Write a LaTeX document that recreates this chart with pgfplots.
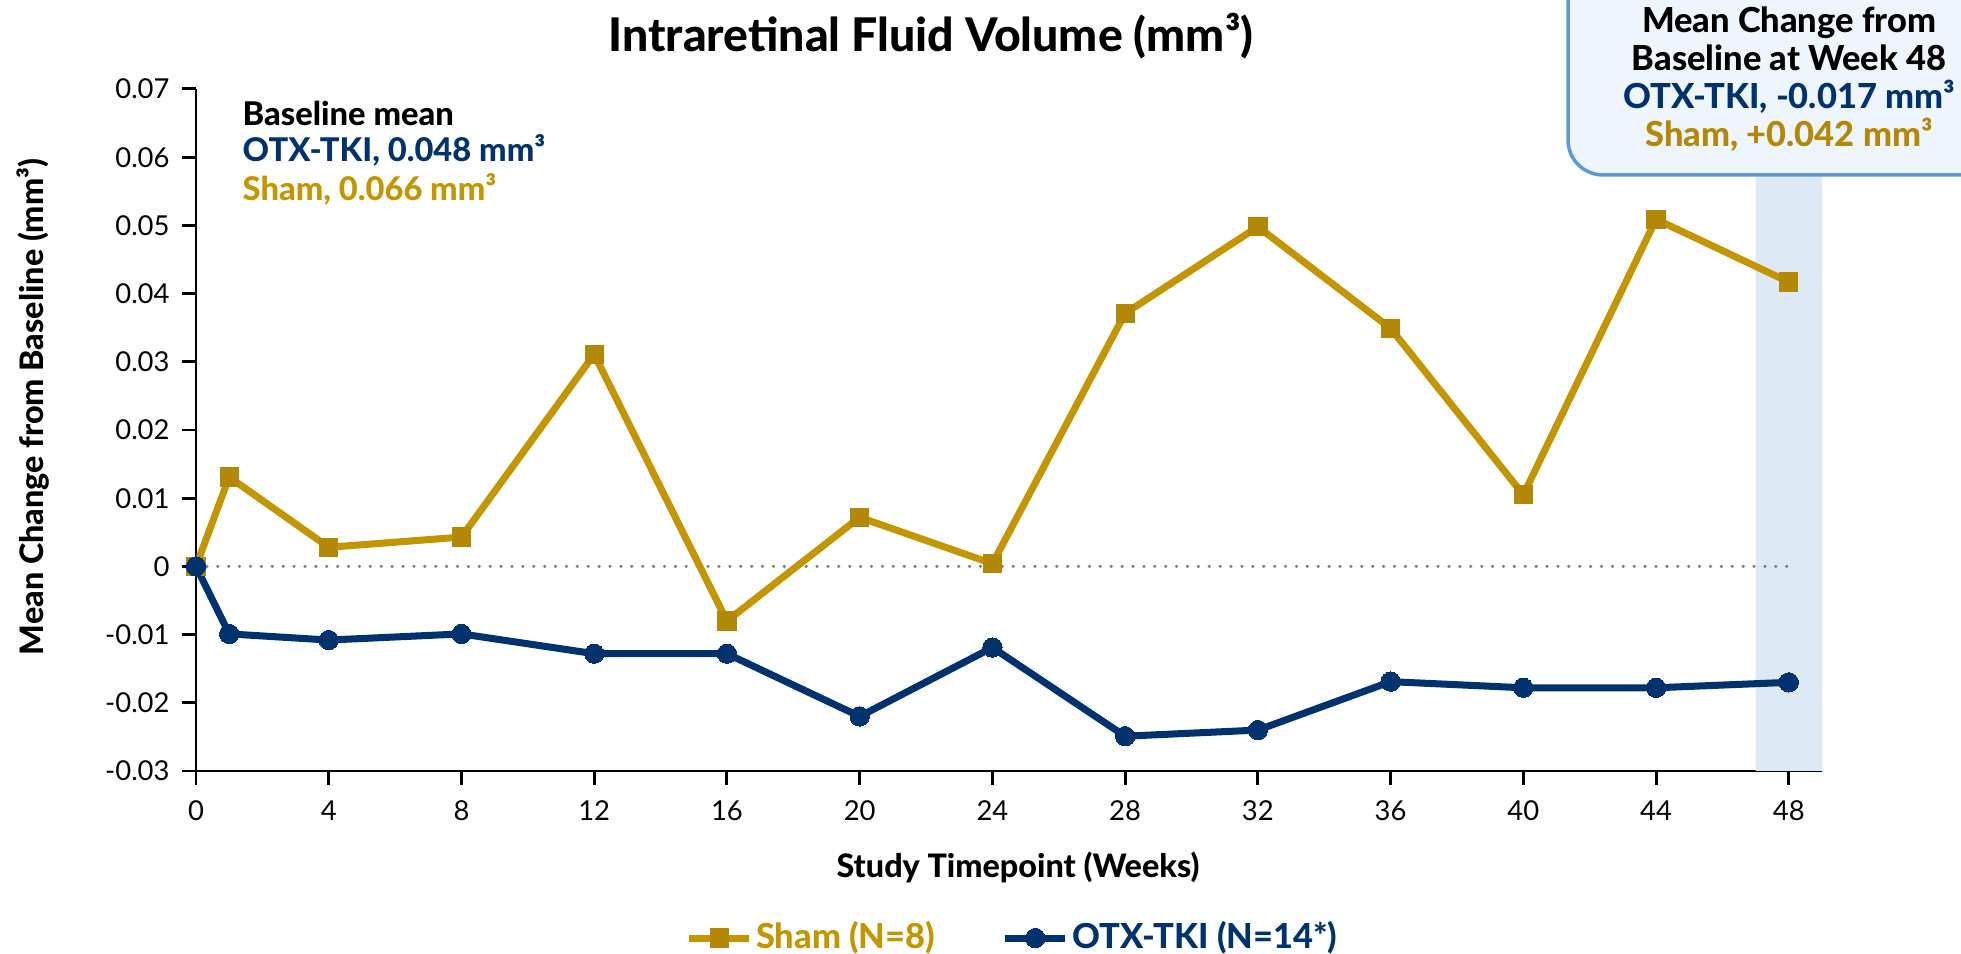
\documentclass[border=0pt]{standalone}
\usepackage{pgfplots}
\pgfplotsset{compat=1.18}
\usepackage{fontspec}
\setmainfont{Lato}[BoldFont={Lato Heavy}]
\definecolor{shamline}{HTML}{C39500}
\definecolor{shammark}{HTML}{B38807}
\definecolor{navy}{HTML}{00336E}
\definecolor{band}{HTML}{DDE9F5}
\definecolor{boxfill}{HTML}{EEF5FC}
\definecolor{boxline}{HTML}{5B9BD5}
\definecolor{zgray}{HTML}{7F7F7F}
\begin{document}
\begin{tikzpicture}
\useasboundingbox (0,0) rectangle (19.61,9.53);
\begin{axis}[
  at={(1.96cm,1.82cm)}, anchor=south west,
  scale only axis, width=16.26cm, height=6.82cm,
  xmin=0, xmax=49, ymin=-0.03, ymax=0.07,
  axis x line*=bottom, axis y line*=left,
  axis line style={line width=0.85pt, black},
  tick align=outside, major tick length=4pt,
  tick style={line width=0.85pt, black},
  scaled y ticks=false,
  xtick={0,4,8,12,16,20,24,28,32,36,40,44,48},
  xticklabels={0,4,8,12,16,20,24,28,32,36,40,44,48},
  ytick={-0.03,-0.02,-0.01,0,0.01,0.02,0.03,0.04,0.05,0.06,0.07},
  yticklabels={-0.03,-0.02,-0.01,0,0.01,0.02,0.03,0.04,0.05,0.06,0.07},
  ticklabel style={font=\fontsize{7.8}{9}\selectfont},
  xticklabel style={yshift=-1pt},
  legend columns=2,
  legend style={at={(0.3007,-0.2449)}, anchor=west, draw=none, fill=none, inner sep=0pt,
    font=\fontsize{9.8}{11}\selectfont\bfseries,
    nodes={inner xsep=1pt},
    /tikz/every even column/.append style={column sep=18pt}},
  legend cell align=left,
  clip=false,
]
\addplot[forget plot, fill=band, draw=none] coordinates {(47,-0.03) (49,-0.03) (49,0.07) (47,0.07)} \closedcycle;
\addplot[forget plot, zgray, line width=1pt, line cap=round, dash pattern=on 0pt off 3.1pt] coordinates {(0,0) (48,0)};
\addplot[shamline, line width=2pt, mark=square*, mark size=2.6pt, mark options={fill=shammark, draw=shammark, line width=0pt}] coordinates {
(0,0) (1,0.0131) (4,0.0028) (8,0.0043) (12,0.0311) (16,-0.0080) (20,0.0072) (24,0.0004) (28,0.0371) (32,0.0498) (36,0.0349) (40,0.0105) (44,0.0509) (48,0.0417)};
\addlegendentry{\textcolor{shamline}{Sham (N=8)}}
\addplot[navy, line width=2pt, mark=*, mark size=2.75pt, mark options={fill=navy, draw=navy, line width=0pt}] coordinates {
(0,0) (1,-0.0099) (4,-0.0108) (8,-0.0099) (12,-0.0128) (16,-0.0128) (20,-0.0220) (24,-0.0119) (28,-0.0249) (32,-0.0240) (36,-0.0169) (40,-0.0178) (44,-0.0178) (48,-0.0170)};
\addlegendentry{\textcolor{navy}{OTX-TKI (N=14*)}}
\end{axis}
\draw[fill=boxfill, draw=boxline, line width=1pt, rounded corners=0.35cm] (15.68,7.78) rectangle (20.5,10.3);
\begin{scope}[every node/.style={anchor=base, inner sep=0pt, font=\fontsize{9.8}{11}\selectfont\bfseries}]
\node at (17.89,9.20) {Mean Change from};
\node at (17.89,8.82) {Baseline at Week 48};
\node[text=navy] at (17.89,8.44) {OTX-TKI, -0.017 mm³};
\node[text=shammark] at (17.89,8.06) {Sham, +0.042 mm³};
\end{scope}
\begin{scope}[every node/.style={anchor=base west, inner sep=0pt, font=\fontsize{9.3}{11}\selectfont\bfseries}]
\node at (2.42,8.27) {Baseline mean};
\node[text=navy] at (2.42,7.91) {OTX-TKI, 0.048 mm³};
\node[text=shamline] at (2.42,7.52) {Sham, 0.066 mm³};
\end{scope}
\node[anchor=base west, inner sep=0pt, font=\fontsize{13.2}{15}\selectfont\bfseries] at (6.08,9.01) {Intraretinal Fluid Volume (mm³)};
\node[font=\fontsize{9.2}{10}\selectfont\bfseries, rotate=90] at (0.33,5.46) {Mean Change from Baseline (mm³)};
\node[anchor=base, inner sep=0pt, font=\fontsize{9.2}{10}\selectfont\bfseries] at (10.18,0.75) {Study Timepoint (Weeks)};
\end{tikzpicture}
\end{document}
